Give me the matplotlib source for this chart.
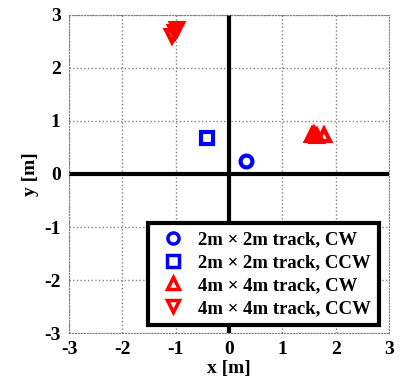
import matplotlib
matplotlib.use('Agg')
import matplotlib.pyplot as plt

# Mean position offsets per track/direction
circ_x = [0.31]
circ_y = [0.24]
sq_x = [-0.42]
sq_y = [0.67]
up_x = [1.55, 1.6, 1.65, 1.78]
up_y = [0.73, 0.76, 0.72, 0.74]
down_x = [-1.07, -1.02, -0.97]
down_y = [2.6, 2.68, 2.74]

labels = ['2m \u00d7 2m track, CW', '2m \u00d7 2m track, CCW',
          '4m \u00d7 4m track, CW', '4m \u00d7 4m track, CCW']

plt.rcParams['font.family'] = 'Liberation Serif'
plt.rcParams['font.weight'] = 'bold'
plt.rcParams['axes.unicode_minus'] = False

fig = plt.figure(figsize=(4.0, 3.79), dpi=100)
ax = fig.add_axes([0.1725, 0.121, 0.8, 0.84])

ax.axhline(0, color='black', lw=3, zorder=2)
ax.axvline(0, color='black', lw=3, zorder=2)

mk = dict(linestyle='none', markerfacecolor='none', markeredgewidth=3, markersize=8.5, zorder=3)
ax.plot(circ_x, circ_y, marker='o', color='blue', label=labels[0], **mk)
ax.plot(sq_x, sq_y, marker='s', color='blue', label=labels[1], **mk)
ax.plot(up_x, up_y, marker='^', color='red', label=labels[2], **mk)
ax.plot(down_x, down_y, marker='v', color='red', label=labels[3], **mk)

ax.set_xlim(-3, 3)
ax.set_ylim(-3, 3)
ax.set_xticks(range(-3, 4))
ax.set_yticks(range(-3, 4))
ax.grid(True, linestyle=':', color='gray', lw=1)
for s in ax.spines.values():
    s.set_linestyle(':')
    s.set_color('gray')
ax.tick_params(length=0, labelsize=14, pad=6)
for t in ax.get_xticklabels() + ax.get_yticklabels():
    t.set_fontweight('bold')
ax.set_xlabel('x [m]', fontsize=14, fontweight='bold', labelpad=1)
ax.set_ylabel('y [m]', fontsize=14, fontweight='bold', labelpad=4)

leg = ax.legend(loc='lower right', bbox_to_anchor=(0.97, 0.025),
                prop={'weight': 'bold', 'size': 13.5}, fancybox=False, framealpha=1,
                handletextpad=0.5, borderpad=0.45, labelspacing=0.3, handlelength=1.7,
                borderaxespad=0)
leg.get_frame().set_edgecolor('black')
leg.get_frame().set_linewidth(3)
for h in leg.legend_handles:
    h.set_markersize(8)
    h.set_markeredgewidth(2.5)

fig.savefig('out.png', dpi=100)
